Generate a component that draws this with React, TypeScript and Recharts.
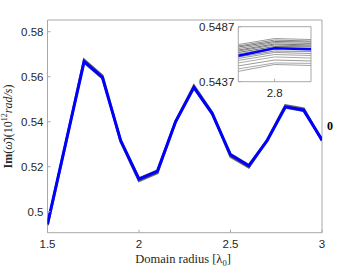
import React from "react";
import { LineChart, Line, XAxis, YAxis, ReferenceArea } from "recharts";

const xValues = [1.5, 1.6, 1.7, 1.8, 1.9, 2.0, 2.1, 2.2, 2.3, 2.4, 2.5, 2.6, 2.7, 2.8, 2.9, 3.0];
const blueValues = [0.4945, 0.5306, 0.5667, 0.5597, 0.5316, 0.5145, 0.5179, 0.5400, 0.5553, 0.5436, 0.5253, 0.5204, 0.5316, 0.5466, 0.5451, 0.5319];
const grayOuter = [0.4940, 0.5304, 0.5675, 0.5605, 0.5313, 0.5137, 0.5172, 0.5401, 0.5560, 0.5441, 0.5245, 0.5197, 0.5318, 0.5473, 0.5458, 0.5315];
const grayInner = [0.4947, 0.5308, 0.5662, 0.5592, 0.5318, 0.5149, 0.5183, 0.5402, 0.5549, 0.5433, 0.5257, 0.5208, 0.5318, 0.5462, 0.5447, 0.5322];
const xTicks = [1.5, 2, 2.5, 3];
const yTicks = [0.5, 0.52, 0.54, 0.56, 0.58];

const insetX = [2.79, 2.8, 2.81];
const insetBlue = [0.54606, 0.54674, 0.54665];
const insetGray = [
  [0.54708, 0.54763, 0.54754],
  [0.54695, 0.54749, 0.5474],
  [0.54686, 0.54736, 0.54731],
  [0.54672, 0.54726, 0.54717],
  [0.54658, 0.54713, 0.54704],
  [0.54649, 0.54704, 0.54695],
  [0.54636, 0.5469, 0.54686],
  [0.54622, 0.54681, 0.54672],
  [0.54595, 0.54649, 0.54645],
  [0.54581, 0.54636, 0.54626],
  [0.54563, 0.54617, 0.54608],
  [0.5454, 0.54595, 0.54585],
  [0.54513, 0.54567, 0.54558],
  [0.54486, 0.5454, 0.54536],
  [0.54463, 0.54526, 0.54517],
];
const insetGrayColors = ["#9a9a9a", "#8a8a8a", "#7a7a7a", "#8c8c8c", "#777", "#888", "#6e6e6e", "#999", "#8a8a8a", "#9c9c9c", "#a5a5a5", "#aaa", "#9a9a9a", "#a8a8a8", "#a0a0a0"];
const insetYTicks = [0.5437, 0.5487];
const insetXTicks = [2.8];

const AXIS = "#a8a8a8";
const TXT = "#262626";
const SANS = "'Liberation Sans', Arial, sans-serif";
const SERIF = "'Liberation Serif', 'DejaVu Serif', serif";

const mainData = xValues.map((x, i) => ({ x, blue: blueValues[i], go: grayOuter[i], gi: grayInner[i] }));
const insetData = insetX.map((x, i) => {
  const row: any = { x, blue: insetBlue[i] };
  insetGray.forEach((g, k) => (row["g" + k] = g[i]));
  return row;
});

const BottomTick = (p: any) => (
  <g>
    <line x1={p.x} x2={p.x} y1={p.y} y2={p.y - 3} stroke={AXIS} />
    <text x={p.x} y={p.y + 15} textAnchor="middle" fontSize={11.5} fill={TXT} fontFamily={SANS}>
      {String(p.payload.value)}
    </text>
  </g>
);
const TopTick = (p: any) => (
  <g>
    <line x1={p.x} x2={p.x} y1={p.y} y2={p.y + 3} stroke={AXIS} />
  </g>
);
const LeftTick = (p: any) => (
  <g>
    <line x1={p.x} x2={p.x + 3} y1={p.y} y2={p.y} stroke={AXIS} />
    <text x={p.x - 4} y={p.y + 4} textAnchor="end" fontSize={11.5} fill={TXT} fontFamily={SANS}>
      {String(p.payload.value)}
    </text>
  </g>
);
const RightTick = (p: any) => (
  <g>
    <line x1={p.x} x2={p.x - 3} y1={p.y} y2={p.y} stroke={AXIS} />
  </g>
);

export default function App() {
  return (
    <div style={{ position: "absolute", left: 0, top: 0, width: 357, height: 268, background: "#fff" }}>
      <LineChart
        width={357}
        height={268}
        data={mainData}
        margin={{ top: 20, right: 35, bottom: 5.3, left: 7.5 }}
      >
        <ReferenceArea x1={1.5} x2={3} y1={0.49067} y2={0.5852} fill="none" stroke={AXIS} strokeWidth={1} />
        <XAxis dataKey="x" type="number" domain={[1.5, 3]} ticks={xTicks} allowDataOverflow height={30}
          axisLine={false} tickLine={false} tickSize={0} tickMargin={0} tick={<BottomTick />} interval={0} />
        <XAxis xAxisId="top" orientation="top" dataKey="x" type="number" domain={[1.5, 3]} ticks={xTicks} allowDataOverflow height={0}
          axisLine={false} tickLine={false} tickSize={0} tickMargin={0} tick={<TopTick />} interval={0} />
        <YAxis type="number" domain={[0.49067, 0.5852]} ticks={yTicks} allowDataOverflow width={40}
          axisLine={false} tickLine={false} tickSize={0} tickMargin={0} tick={<LeftTick />} interval={0} />
        <YAxis yAxisId="r" orientation="right" type="number" domain={[0.49067, 0.5852]} ticks={yTicks} allowDataOverflow width={0}
          axisLine={false} tickLine={false} tickSize={0} tickMargin={0} tick={<RightTick />} interval={0} />
        <Line dataKey="go" stroke="#606060" strokeWidth={2.5} dot={false} isAnimationActive={false} />
        <Line dataKey="gi" stroke="#707070" strokeWidth={2} dot={false} isAnimationActive={false} />
        <Line dataKey="blue" stroke="#0000ff" strokeWidth={3} dot={false} isAnimationActive={false} />
      </LineChart>

      <svg width={357} height={268} style={{ position: "absolute", left: 0, top: 0, pointerEvents: "none" }}>
        <text transform="translate(12,126.5) rotate(-90)" textAnchor="middle" fontSize={12} fill={TXT} fontFamily={SERIF}>
          <tspan fontWeight="bold">Im</tspan>
          <tspan>(</tspan>
          <tspan fontStyle="italic">ω̄</tspan>
          <tspan>)(10</tspan>
          <tspan dy={-5} fontSize={8}>12</tspan>
          <tspan dy={5} fontStyle="italic">rad/s</tspan>
          <tspan>)</tspan>
        </text>
        <text x={183} y={263} textAnchor="middle" fontSize={12.5} fill={TXT} fontFamily={SERIF}>
          <tspan>Domain radius [λ</tspan>
          <tspan dy={3} fontSize={8.5}>0</tspan>
          <tspan dy={-3}>]</tspan>
        </text>
        <text x={330} y={129.5} textAnchor="middle" fontSize={12} fontWeight="bold" fill="#000" fontFamily={SERIF}>0</text>
      </svg>

      <div style={{ position: "absolute", left: 190, top: 16 }}>
        <LineChart
          width={125}
          height={90}
          data={insetData}
          margin={{ top: 10.7, right: 4, bottom: 8.3, left: 3.3 }}
        >
          <ReferenceArea x1={2.79} x2={2.81} y1={0.54369} y2={0.54871} fill="#fff" fillOpacity={1} stroke={AXIS} strokeWidth={1} />
          <XAxis dataKey="x" type="number" domain={[2.79, 2.81]} ticks={insetXTicks} allowDataOverflow height={16}
            axisLine={false} tickLine={false} tickSize={0} tickMargin={0} tick={<BottomTick />} interval={0} />
          <XAxis xAxisId="top" orientation="top" dataKey="x" type="number" domain={[2.79, 2.81]} ticks={insetXTicks} allowDataOverflow height={0}
            axisLine={false} tickLine={false} tickSize={0} tickMargin={0} tick={<TopTick />} interval={0} />
          <YAxis type="number" domain={[0.54369, 0.54871]} ticks={insetYTicks} allowDataOverflow width={45}
            axisLine={false} tickLine={false} tickSize={0} tickMargin={0} tick={<LeftTick />} interval={0} />
          {insetGray.map((_, k) => (
            <Line key={k} dataKey={"g" + k} stroke={insetGrayColors[k]} strokeWidth={1} dot={false} isAnimationActive={false} />
          ))}
          <Line dataKey="blue" stroke="#0000ff" strokeWidth={2.5} dot={false} isAnimationActive={false} />
        </LineChart>
      </div>
    </div>
  );
}
